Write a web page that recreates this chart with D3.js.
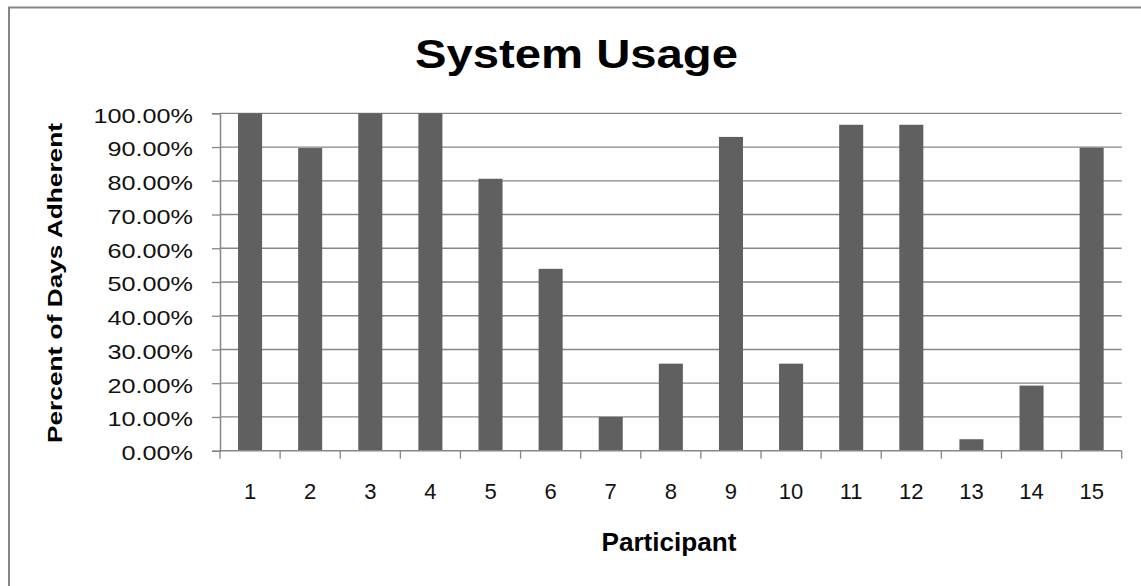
<!DOCTYPE html>
<html><head><meta charset="utf-8">
<script src="https://cdn.jsdelivr.net/npm/d3@7"></script>
<style>body{margin:0;background:#fff;} svg{display:block;font-family:Arial,"Liberation Sans",sans-serif;}</style>
</head><body>
<svg id="c" width="1141" height="586"></svg>
<script>
const participants = ["1","2","3","4","5","6","7","8","9","10","11","12","13","14","15"];
const adherence = [1.0, 0.897, 1.0, 1.0, 0.806, 0.539, 0.10, 0.258, 0.93, 0.258, 0.966, 0.966, 0.034, 0.193, 0.898];
const yTicks = [0,0.1,0.2,0.3,0.4,0.5,0.6,0.7,0.8,0.9,1.0];
const title = "System Usage";
const xTitle = "Participant";
const yTitle = "Percent of Days Adherent";

const svg = d3.select("#c");
const L = 220, R = 1121.7, T = 113.3, B = 450.7;
const grid = "#868686";

// outer frame (right/bottom edges lie outside the picture)
svg.append("rect").attr("x",9).attr("y",7.5).attr("width",1150).attr("height",600)
  .attr("fill","none").attr("stroke",grid).attr("stroke-width",2);

const x = d3.scaleBand().domain(participants).range([L,R]).paddingInner(0.6).paddingOuter(0.3);
const y = d3.scaleLinear().domain([0,1]).range([B,T]);

// gridlines
svg.append("g").selectAll("line").data(yTicks.slice(1)).join("line")
  .attr("x1",L).attr("x2",R).attr("y1",d=>y(d)).attr("y2",d=>y(d))
  .attr("stroke",grid).attr("stroke-width",1.3);

// bars
svg.append("g").selectAll("rect").data(participants).join("rect")
  .attr("x",d=>x(d)).attr("width",x.bandwidth())
  .attr("y",(d,i)=>y(adherence[i])).attr("height",(d,i)=>B-y(adherence[i]))
  .attr("fill","#606060");

// y axis
const yAxis = svg.append("g").attr("transform",`translate(${L},0)`)
  .call(d3.axisLeft(y).tickValues(yTicks).tickFormat(d3.format(".2%")).tickSizeOuter(0).tickSize(8).tickPadding(19));
yAxis.select(".domain").attr("stroke",grid).attr("stroke-width",1.5);
yAxis.selectAll(".tick line").attr("stroke",grid).attr("stroke-width",1.3);
yAxis.selectAll(".tick text").attr("font-size",21).attr("fill","#111").attr("dy","0.42em")
  .each(function(){ const w=this.getComputedTextLength(); d3.select(this).attr("textLength",w*1.2).attr("lengthAdjust","spacingAndGlyphs"); });

// x axis with ticks at category boundaries
const bounds = d3.range(participants.length+1).map(i=>L+i*x.step());
svg.append("line").attr("x1",L).attr("x2",R).attr("y1",B).attr("y2",B).attr("stroke",grid).attr("stroke-width",1.5);
svg.append("g").selectAll("line").data(bounds).join("line")
  .attr("x1",d=>d).attr("x2",d=>d).attr("y1",B).attr("y2",B+8).attr("stroke",grid).attr("stroke-width",1.3);
svg.append("g").selectAll("text").data(participants).join("text")
  .attr("x",d=>x(d)+x.bandwidth()/2).attr("y",499).attr("text-anchor","middle")
  .attr("font-size",22).attr("fill","#111").text(d=>d);

// titles
svg.append("text").attr("x",576.5).attr("y",68).attr("text-anchor","middle")
  .attr("font-size",40).attr("font-weight","bold").attr("textLength",323).attr("lengthAdjust","spacingAndGlyphs").text(title);
svg.append("text").attr("x",669).attr("y",551).attr("text-anchor","middle")
  .attr("font-size",25).attr("font-weight","bold").attr("textLength",135).attr("lengthAdjust","spacingAndGlyphs").text(xTitle);
svg.append("text").attr("transform","translate(62,283) rotate(-90)").attr("text-anchor","middle")
  .attr("font-size",20).attr("font-weight","bold").attr("textLength",320).attr("lengthAdjust","spacingAndGlyphs").text(yTitle);
</script>
</body></html>
